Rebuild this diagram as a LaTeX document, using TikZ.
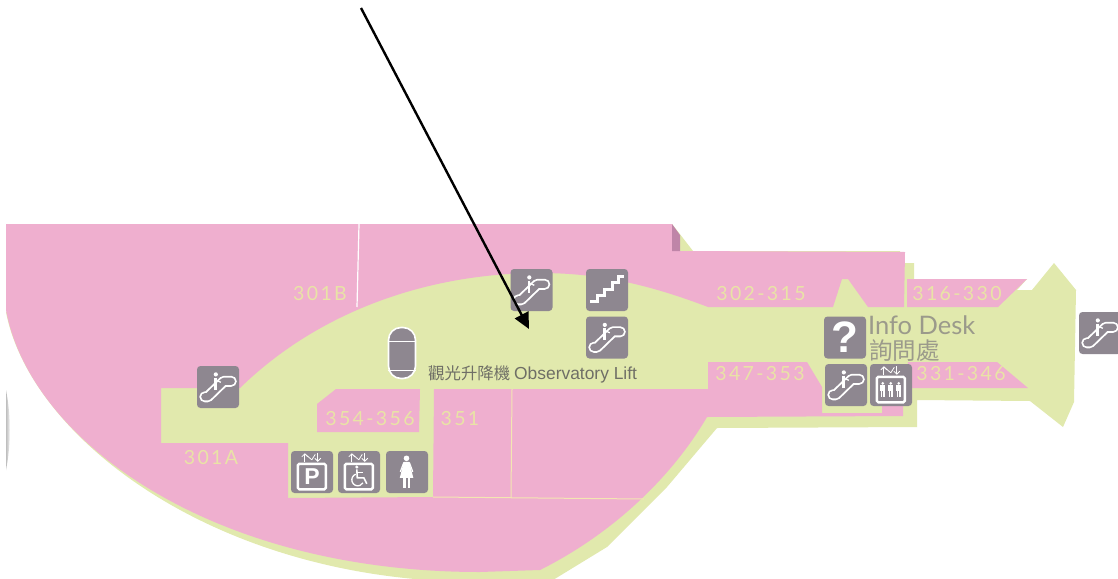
\documentclass[tikz,border=0pt]{standalone}
\usepackage{fontspec}
\setmainfont{Liberation Sans}
\newfontfamily\labfont[LetterSpace=12]{Lato}
\newfontfamily\infofont{Lato}
\newfontfamily\cjkfont{Noto Sans CJK TC}
\usetikzlibrary{arrows.meta,shadings}
\definecolor{pinkarea}{HTML}{EFAFCF}
\definecolor{greenarea}{HTML}{E1E9AD}
\definecolor{darkpink}{HTML}{BF85A8}
\definecolor{icongrey}{HTML}{8E8790}
\definecolor{creamtext}{HTML}{E9E3A6}
\definecolor{creamline}{HTML}{F3E6B2}
\definecolor{infotext}{HTML}{9B9A8B}
\definecolor{lifttext}{HTML}{6F6F66}
\tikzset{
  iconbox/.style={fill=icongrey,rounded corners=3.5pt,minimum size=42pt,inner sep=0pt,draw=none},
  roomlabel/.style={text=creamtext,inner sep=0pt,font=\labfont\fontsize{19.5}{19.5}\selectfont},
  frameglyph/.style={draw=white,line width=2.4pt,rounded corners=1.5pt},
  escalglyph/.pic={
    \draw[white,line width=11pt,line cap=round,line join=round] (8,31) -- (11,31) -- (27,15.5) -- (34.5,15.5);
    \draw[icongrey,line width=7.2pt,line cap=round,line join=round] (8,31) -- (11,31) -- (27,15.5) -- (34.5,15.5);
    \fill[white] (19,8.6) circle (2.1);
    \draw[white,line width=2.8pt] (18.6,12) -- (18.6,24);
    \draw[white,line width=1.3pt] (18.6,14) -- (24,16.5);
  },
  stairglyph/.pic={
    \draw[white,line width=3pt] (4,33) -- (12,33) -- (12,27) -- (19,27) -- (19,21) -- (27,21) -- (27,14) -- (33,14) -- (33,8) -- (38.5,8);
  },
  updownglyph/.pic={
    \draw[white,line width=.8pt,-{Straight Barb[length=3pt,width=6pt]}] (14,11) -- (14,2.5);
    \draw[white,line width=.8pt] (14,3) -- (21,9);
    \draw[white,line width=.8pt,-{Straight Barb[length=3pt,width=6pt]}] (27,2.5) -- (27,11);
    \draw[white,line width=.8pt] (21,9) -- (24.5,3.5);
    \draw[frameglyph] (7,13) rectangle (35,38.5);
  },
  personglyph/.pic={
    \fill[white] (0,-6.4) circle (1.5);
    \fill[white] (-2.6,-4.6) rectangle (2.6,1.5);
    \fill[white] (-2,1.5) rectangle (-.4,7.4);
    \fill[white] (.4,1.5) rectangle (2,7.4);
  },
}
\begin{document}
\begin{tikzpicture}[x=1pt,y=-1pt]
\useasboundingbox (0,0) rectangle (1118,578);
\clip (0,0) rectangle (1118,578);
\fill[white] (0,0) rectangle (1118,578);

% green floor
\fill[greenarea] (6,312) .. controls (30,437) and (215,582) .. (480,582)
  -- (553,580) -- (607,547) -- (667,487) -- (717,428) -- (917,427) -- (917,400) -- (1030,401)
  -- (1063,427) -- (1074,402) -- (1076,290) -- (1054,263) -- (1032,290) -- (1017,290) -- (1027,279)
  -- (914,279) -- (914,263) -- (900,263) -- (900,251) -- (693,251) -- (672,224) -- (300,240) -- (100,350) -- cycle;

% grey crescent on the left edge
\shade[left color=black!25,right color=white] (6,390) .. controls (11,415) and (11,445) .. (6,470) -- cycle;

% main pink area
\fill[pinkarea] (6,224) -- (672,224) -- (672,251) -- (905,252) -- (904,307) -- (868,307) -- (848,279) -- (842,279) -- (833,307) -- (708,307)
  .. controls (650,285) and (600,273) .. (540,273)
  .. controls (430,273) and (320,310) .. (240,388)
  -- (161,388) -- (161,443) -- (288,443) -- (288,498) -- (433,497) -- (434,389) -- (708,389) -- (708,362)
  -- (807,362) -- (822,387) -- (822,413) -- (882,413) -- (882,406) -- (903,406) -- (903,416) -- (707,417)
  .. controls (670,480) and (610,535) .. (540,570)
  -- (480,572)
  .. controls (210,572) and (30,440) .. (6,310)
  -- cycle;
\fill[darkpink] (672,224) -- (680,235) -- (680,251) -- (672,251) -- cycle;
\fill[pinkarea] (317,404) -- (336,389) -- (420,389) -- (419,432) -- (317,432) -- cycle;
\fill[pinkarea] (907,279) -- (1027,279) -- (998,307) -- (907,307) -- cycle;
\fill[pinkarea] (908,362) -- (997,362) -- (1028,388) -- (906,388) -- cycle;

% dividing lines
\coordinate (wa) at (359,224);
\coordinate (wb) at (357,307);
\draw[white,line width=1.2pt] (wa) -- (wb);
\coordinate (ca) at (512,389);
\coordinate (cb) at (511,498);
\coordinate (cc) at (433,497);
\coordinate (cd) at (644,499);
\draw[creamline,line width=1pt] (ca) -- (cb);
\draw[creamline,line width=1pt] (cc) -- (cd);

% room labels
\node[roomlabel] (r301b) at (320,294) {301B};
\node[roomlabel] (r301a) at (211,458) {301A};
\node[roomlabel] (r354) at (370,419) {354-356};
\node[roomlabel] (r351) at (460,419) {351};
\node[roomlabel] (r302) at (761,294) {302-315};
\node[roomlabel] (r347) at (760,374) {347-353};
\node[roomlabel] (r316) at (957,294) {316-330};
\node[roomlabel] (r331) at (961,374) {331-346};

% observatory lift
\node[fill=icongrey,draw=white,line width=1.6pt,rounded corners=12.5pt,minimum width=27pt,minimum height=51pt,inner sep=0pt] (capsule) at (402,353) {};
\draw[white,line width=1.3pt] ([yshift=-14.5pt]capsule.north west) -- ([yshift=-14.5pt]capsule.north east);
\draw[white,line width=1.3pt] ([yshift=9pt]capsule.south west) -- ([yshift=9pt]capsule.south east);
\node[anchor=west,inner sep=0pt,text=lifttext] (obs) at (428,374) {{\cjkfont\fontsize{16.4}{16.4}\selectfont 觀光升降機}\hspace{4pt}{\fontsize{17.4}{17.4}\selectfont Observatory Lift}};

% info desk
\node[anchor=base west,inner sep=0pt,text=infotext,font=\infofont\fontsize{25.5}{25.5}\selectfont] (info) at (868,334) {Info Desk};
\node[anchor=base west,inner sep=0pt,text=infotext,font=\cjkfont\fontsize{23.5}{23.5}\selectfont] (infozh) at (869,359) {詢問處};

% icons
\node[iconbox] (esca) at (218,387) {};
\pic at (esca.north west) {escalglyph};
\node[iconbox] (escb) at (531.5,290) {};
\pic at (escb.north west) {escalglyph};
\node[iconbox] (stair) at (607,290) {};
\pic at (stair.north west) {stairglyph};
\node[iconbox] (escc) at (607,337.5) {};
\pic at (escc.north west) {escalglyph};
\node[iconbox,text=white,font=\bfseries\fontsize{44}{44}\selectfont] (help) at (845,337.5) {?};
\node[iconbox] (escd) at (846,385) {};
\pic at (escd.north west) {escalglyph};
\node[iconbox] (esce) at (1100,333) {};
\pic at (esce.north west) {escalglyph};

\node[iconbox] (liftb) at (891,385) {};
\pic at (liftb.north west) {updownglyph};
\pic at ([xshift=13pt,yshift=-26pt]liftb.north west) {personglyph};
\pic at ([xshift=21pt,yshift=-26pt]liftb.north west) {personglyph};
\pic at ([xshift=29pt,yshift=-26pt]liftb.north west) {personglyph};

\node[iconbox] (park) at (312,472) {};
\pic at (park.north west) {updownglyph};
\node[inner sep=0pt,text=white,font=\bfseries\fontsize{23}{23}\selectfont] (parkp) at ([yshift=-25.5pt]park.north) {P};

\node[iconbox] (wheel) at (359,472) {};
\pic at (wheel.north west) {updownglyph};
\begin{scope}[shift={(wheel.north west)}]
  \fill[white] (19,16.2) circle (1.7);
  \draw[white,line width=1.6pt] (19,18.5) -- (19.5,27) -- (26,27) -- (29,33);
  \draw[white,line width=1.2pt] (19.5,22) -- (25,22);
  \draw[white,line width=1.3pt] (17.95,23.4) arc[start angle=-110,end angle=-330,radius=6];
\end{scope}

\node[iconbox] (lady) at (407,472) {};
\begin{scope}[shift={(lady.north west)}]
  \fill[white] (20.7,7.5) circle (2.8);
  \fill[white] (18,11) -- (23.5,11) -- (27.5,27) -- (14,27) -- cycle;
  \draw[white,line width=1.2pt] (18,11.6) -- (14.5,21);
  \draw[white,line width=1.2pt] (23.5,11.6) -- (27,21);
  \fill[white] (17.4,27) rectangle (19.7,37.5);
  \fill[white] (21.8,27) rectangle (24.1,37.5);
\end{scope}

% arrow
\coordinate (arrowstart) at (361,8);
\coordinate (arrowtip) at (529,329);
\draw[black,line width=2.4pt,-{Triangle[length=16pt,width=15pt]}] (arrowstart) -- (arrowtip);
\end{tikzpicture}
\end{document}
